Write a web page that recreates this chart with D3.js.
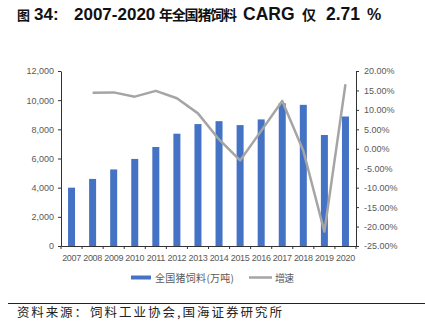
<!DOCTYPE html>
<html><head><meta charset="utf-8">
<script src="https://cdn.jsdelivr.net/npm/d3@7/dist/d3.min.js"></script>
<style>body{margin:0;background:#fff;}svg{display:block;}</style>
</head><body>
<script>
const years = ["2007","2008","2009","2010","2011","2012","2013","2014","2015","2016","2017","2018","2019","2020"];
const feed = [4000,4600,5250,5970,6790,7700,8360,8560,8290,8680,9790,9680,7610,8880];
const growth = [null,14.4,14.5,13.4,14.9,13.0,9.1,2.4,-3.0,4.6,12.3,-0.5,-21.3,16.6];
const leftTicks = [0,2000,4000,6000,8000,10000,12000];
const rightTicks = [-25,-20,-15,-10,-5,0,5,10,15,20];

const W=425,H=328;
const svg=d3.select("body").append("svg").attr("width",W).attr("height",H);
const cjk='"Noto Sans CJK SC", sans-serif';
const lat='"Liberation Sans", Arial, sans-serif';

// title segments (w: forced width for CJK runs only)
const titleSegs=[
  {t:"图",x:17,w:12,f:cjk,s:13},
  {t:"34:",x:34,f:lat,s:17},
  {t:"2007-2020",x:74,f:lat,s:17},
  {t:"年全国猪饲料",x:159,w:78,f:cjk,s:14},
  {t:"CARG",x:243,f:lat,s:17.5},
  {t:"仅",x:302,w:15,f:cjk,s:14},
  {t:"2.71",x:326,f:lat,s:17.5},
  {t:"%",x:367,f:lat,s:16}
];
svg.append("g").selectAll("text").data(titleSegs).join("text")
  .attr("x",d=>d.x).attr("y",20).attr("font-family",d=>d.f).attr("font-size",d=>d.s)
  .attr("font-weight","bold").attr("fill","#111")
  .each(function(d){ if(d.w) d3.select(this).attr("textLength",d.w).attr("lengthAdjust","spacing"); })
  .text(d=>d.t);

const x0=61,x1=356,yT=71,yB=246;
const x=d3.scaleBand().domain(years).range([x0,x1]).paddingInner(0).paddingOuter(0);
const yL=d3.scaleLinear().domain([0,12000]).range([yB,yT]);
const yR=d3.scaleLinear().domain([-25,20]).range([yB,yT]);

const bw=7;
svg.append("g").selectAll("rect").data(years).join("rect")
  .attr("x",d=>x(d)+x.bandwidth()/2-bw/2).attr("width",bw)
  .attr("y",(d,i)=>yL(feed[i])).attr("height",(d,i)=>yB-yL(feed[i]))
  .attr("fill","#4472c4");

const line=d3.line().defined(d=>d[1]!=null).x(d=>x(d[0])+x.bandwidth()/2).y(d=>yR(d[1]));
svg.append("path").datum(years.map((y,i)=>[y,growth[i]])).attr("d",line)
  .attr("fill","none").attr("stroke","#a5a5a5").attr("stroke-width",2.5).attr("stroke-linejoin","round");

const axL=svg.append("g").attr("transform",`translate(${x0},0)`)
  .call(d3.axisLeft(yL).tickValues(leftTicks).tickSize(3).tickSizeOuter(0).tickFormat(d3.format(",")));
const axR=svg.append("g").attr("transform",`translate(${x1},0)`)
  .call(d3.axisRight(yR).tickValues(rightTicks).tickSize(3).tickSizeOuter(0).tickFormat(d=>d.toFixed(2)+"%"));
const axX=svg.append("g").attr("transform",`translate(0,${yB})`)
  .call(d3.axisBottom(x).tickSize(0).tickSizeOuter(0));
svg.append("g").selectAll("line").data(d3.range(years.length+1)).join("line")
  .attr("x1",i=>x0+i*x.step()).attr("x2",i=>x0+i*x.step())
  .attr("y1",yB).attr("y2",yB+3).attr("stroke","#333").attr("stroke-width",1);

[axL,axR,axX].forEach(a=>{
  a.selectAll("path.domain").attr("stroke","#333").attr("stroke-width",1);
  a.selectAll(".tick line").attr("stroke","#333");
  a.selectAll("text").attr("font-family",lat).attr("font-size",9).attr("fill","#595959");
});
axL.selectAll("text").attr("x",-7);
axR.selectAll("text").attr("x",8);
axX.selectAll("text").attr("dy",0).attr("y",15).attr("letter-spacing",-0.3);

// legend
const lg=svg.append("g");
lg.append("rect").attr("x",131).attr("y",275.5).attr("width",20).attr("height",4).attr("fill","#4472c4");
lg.append("text").attr("x",155).attr("y",281.5).attr("font-family",cjk).attr("font-size",10).attr("fill","#595959")
  .attr("textLength",79).attr("lengthAdjust","spacing").text("全国猪饲料(万吨)");
lg.append("line").attr("x1",249).attr("x2",272).attr("y1",277.5).attr("y2",277.5).attr("stroke","#a5a5a5").attr("stroke-width",2.5);
lg.append("text").attr("x",275).attr("y",281.5).attr("font-family",cjk).attr("font-size",10).attr("fill","#595959")
  .attr("textLength",19).attr("lengthAdjust","spacing").text("增速");

svg.append("line").attr("x1",8).attr("x2",425).attr("y1",303.5).attr("y2",303.5).attr("stroke","#222").attr("stroke-width",1);
svg.append("text").attr("x",17).attr("y",316.5).attr("font-family",cjk).attr("font-size",12.5).attr("fill","#222")
  .attr("textLength",70).attr("lengthAdjust","spacing").text("资料来源：");
svg.append("text").attr("x",90).attr("y",316.5).attr("font-family",cjk).attr("font-size",12.5).attr("fill","#222")
  .attr("textLength",192).attr("lengthAdjust","spacing").text("饲料工业协会,国海证券研究所");
</script>
</body></html>
